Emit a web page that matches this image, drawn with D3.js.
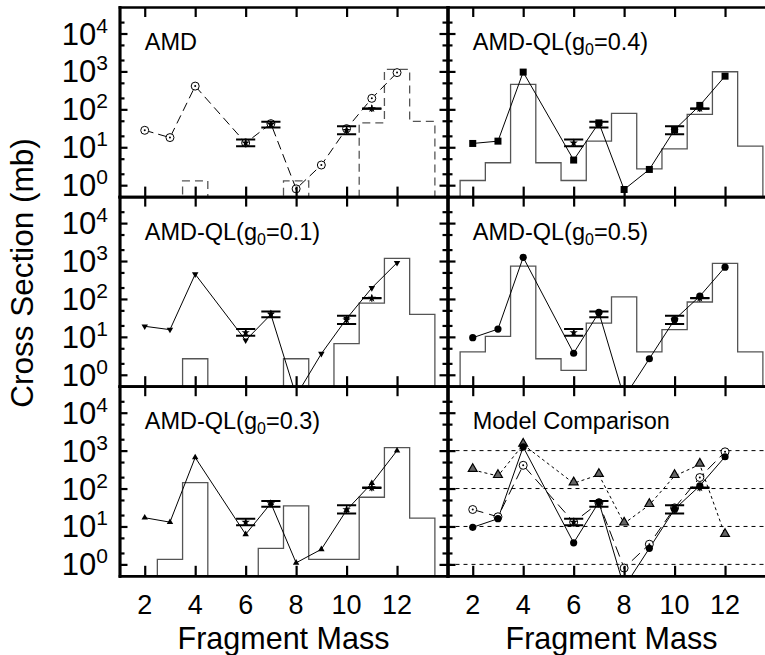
<!DOCTYPE html>
<html>
<head>
<meta charset="utf-8">
<script src="https://cdn.jsdelivr.net/npm/d3@7"></script>
<style>
body { margin: 0; background: #fff; }
svg { display: block; font-family: "Liberation Sans", Arial, sans-serif; }
</style>
</head>
<body>
<script>
// model points by fragment mass (mass 5 is unbound, so it is not plotted)
var masses = [2, 3, 4, 6, 7, 8, 9, 10, 11, 12];
var amdVals = [28, 18, 410, 13, 42, 0.8, 3.4, 31, 195, 930];
var ql01Vals = [19, 15.5, 450, 8.1, 39, 0.28, 3.6, 30, 195, 900];
var ql03Vals = [17, 13, 660, 6.2, 41, 1.1, 2.5, 27, 138, 1000];
var ql04Vals = [12.6, 14.5, 960, 4.6, 44, 0.77, 2.6, 29, 127, 750];
var ql05Vals = [9.5, 16, 1250, 3.7, 44, 0.25, 2.65, 28.5, 118, 690];
var cmpVals = [310, 215, 1440, 138, 230, 12, 37, 215, 430, 6.0];

// histograms, one bin per mass 2..13 (0 = empty bin)
var binMasses = [2, 3, 4, 5, 6, 7, 8, 9, 10, 11, 12, 13];
var amdHist = [0, 0, 1.3, 0, 0, 0, 1.3, 0, 0, 44, 1130, 48];
var ql01Hist = [0, 0, 2.65, 0, 0, 0, 2.65, 0, 6.6, 78, 1170, 39];
var ql03Hist = [0, 1.36, 144, 0, 0, 2.65, 35, 1.36, 1.36, 59, 1200, 16.5];
var ql04Hist = [1.33, 3.9, 455, 3.9, 1.33, 14.5, 78, 2.7, 9.1, 74, 980, 10.7];
var ql05Hist = [4.0, 10.3, 730, 2.65, 1.3, 23, 113, 4.0, 15.5, 83, 870, 4.0];

// experimental data
var expMass = [6, 7, 10, 11];
var expVal = [13, 40, 28, 105];
var expLo = [10.7, 33, 22, 104];
var expHi = [16, 47, 36, 106];

var xTicks = [2, 4, 6, 8, 10, 12];
var yMajor = [1, 10, 100, 1000, 10000];
var yMinor = [2, 5, 20, 50, 200, 500, 2000, 5000, 20000];
var yExp = ["0", "1", "2", "3", "4"];
var gridVals = [1, 10, 100, 1000];

var W = 765, H = 655;
var padL = 119.5, pw = 328, padT = 7, ph = 189.6;

var svg = d3.select("body").append("svg")
  .attr("width", W)
  .attr("height", H);

var xs = [0, 1].map(c => d3.scaleLinear().domain([1, 14]).range([padL + c * pw, padL + (c + 1) * pw]));
var ys = [0, 1, 2].map(r => d3.scaleLog().domain([0.5, 5e4]).range([padT + (r + 1) * ph, padT + r * ph]));

var panels = [
  {row: 0, col: 0, label: ["AMD"], hist: amdHist, histDash: "8,5",
   series: [{vals: amdVals, mark: "odot", dash: "9,5"}]},
  {row: 0, col: 1, label: ["AMD-QL(g", "0", "=0.4)"], hist: ql04Hist,
   series: [{vals: ql04Vals, mark: "square"}]},
  {row: 1, col: 0, label: ["AMD-QL(g", "0", "=0.1)"], hist: ql01Hist,
   series: [{vals: ql01Vals, mark: "tridown"}]},
  {row: 1, col: 1, label: ["AMD-QL(g", "0", "=0.5)"], hist: ql05Hist,
   series: [{vals: ql05Vals, mark: "dot"}]},
  {row: 2, col: 0, label: ["AMD-QL(g", "0", "=0.3)"], hist: ql03Hist,
   series: [{vals: ql03Vals, mark: "triup"}]},
  {row: 2, col: 1, label: ["Model Comparison"], grid: true,
   series: [{vals: cmpVals, mark: "trigray", dash: "3,3"},
            {vals: amdVals, mark: "odot", dash: "11,6"},
            {vals: ql05Vals, mark: "dot"}]}
];

function drawMark(g, kind, px, py) {
  if (kind == "odot") {
    g.append("circle").attr("cx", px).attr("cy", py).attr("r", 4)
      .attr("fill", "#fff").attr("stroke", "#000").attr("stroke-width", 1);
    g.append("circle").attr("cx", px).attr("cy", py).attr("r", 1).attr("fill", "#000");
  } else if (kind == "square") {
    g.append("rect").attr("x", px - 3.5).attr("y", py - 3.5).attr("width", 7).attr("height", 7).attr("fill", "#000");
  } else if (kind == "dot") {
    g.append("circle").attr("cx", px).attr("cy", py).attr("r", 3.6).attr("fill", "#000");
  } else if (kind == "tridown") {
    g.append("path").attr("d", d3.symbol(d3.symbolTriangle, 18)())
      .attr("transform", "translate(" + px + "," + py + ") rotate(180)").attr("fill", "#000");
  } else if (kind == "triup") {
    g.append("path").attr("d", d3.symbol(d3.symbolTriangle, 18)())
      .attr("transform", "translate(" + px + "," + py + ")").attr("fill", "#000");
  } else if (kind == "trigray") {
    g.append("path").attr("d", d3.symbol(d3.symbolTriangle, 34)())
      .attr("transform", "translate(" + px + "," + (py - 1) + ")")
      .attr("fill", "#666").attr("stroke", "#000").attr("stroke-width", 1.2);
  }
}

panels.forEach(function(p, pi) {
  var x = xs[p.col], y = ys[p.row];
  var x0 = x.range()[0], x1 = x.range()[1];
  var yb = y.range()[0], yt = y.range()[1];

  svg.append("clipPath").attr("id", "clip" + pi)
    .append("rect").attr("x", x0).attr("y", yt).attr("width", x1 - x0).attr("height", yb - yt);

  var g = svg.append("g").attr("clip-path", "url(#clip" + pi + ")");

  // histogram as steps
  if (p.hist) {
    var pts = [[binMasses[0] - 0.5, 0.01]];
    p.hist.forEach(function(v, i) {
      var vv = v > 0 ? v : 0.01;
      pts.push([binMasses[i] - 0.5, vv]);
      pts.push([binMasses[i] + 0.5, vv]);
    });
    pts.push([binMasses[binMasses.length - 1] + 0.5, 0.01]);
    g.append("path")
      .attr("d", d3.line().x(d => x(d[0])).y(d => y(d[1]))(pts))
      .attr("fill", "none")
      .attr("stroke", "#555")
      .attr("stroke-width", 1.3)
      .attr("stroke-dasharray", p.histDash || null);
  }

  if (p.grid) {
    g.selectAll(".grid").data(gridVals).enter().append("line")
      .attr("x1", x0).attr("x2", x1)
      .attr("y1", d => y(d)).attr("y2", d => y(d))
      .attr("stroke", "#000").attr("stroke-width", 1)
      .attr("stroke-dasharray", "4,4");
  }

  p.series.forEach(function(s) {
    g.append("path")
      .attr("d", d3.line().x((d, i) => x(masses[i])).y(d => y(d))(s.vals))
      .attr("fill", "none")
      .attr("stroke", "#000")
      .attr("stroke-width", 1)
      .attr("stroke-dasharray", s.dash || null);
  });
  p.series.forEach(function(s) {
    s.vals.forEach(function(v, i) { drawMark(g, s.mark, x(masses[i]), y(v)); });
  });

  // experimental points
  var hw = x(0.38) - x(0);
  expMass.forEach(function(m, i) {
    var px = x(m);
    g.append("line").attr("x1", px).attr("x2", px).attr("y1", y(expLo[i])).attr("y2", y(expHi[i]))
      .attr("stroke", "#000").attr("stroke-width", 1.2);
    [expLo[i], expHi[i]].forEach(function(v) {
      g.append("line").attr("x1", px - hw).attr("x2", px + hw).attr("y1", y(v)).attr("y2", y(v))
        .attr("stroke", "#000").attr("stroke-width", 2);
    });
    g.append("path").attr("d", d3.symbol(d3.symbolStar, 22)())
      .attr("transform", "translate(" + px + "," + y(expVal[i]) + ")").attr("fill", "#000");
    g.append("line").attr("x1", px).attr("x2", px).attr("y1", y(expVal[i]) - 3.5).attr("y2", y(expVal[i]) + 3.5)
      .attr("stroke", "#000").attr("stroke-width", 1.2);
  });

  // axes and frame
  var axes = [
    d3.axisTop(x).tickValues(xTicks).tickSize(-10), "translate(0," + yt + ")",
    d3.axisBottom(x).tickValues(xTicks).tickSize(-10), "translate(0," + yb + ")",
    d3.axisLeft(y).tickValues(yMajor).tickSize(-8), "translate(" + x0 + ",0)",
    d3.axisLeft(y).tickValues(yMinor).tickSize(-5), "translate(" + x0 + ",0)",
    d3.axisRight(y).tickValues(yMajor).tickSize(-8), "translate(" + x1 + ",0)",
    d3.axisRight(y).tickValues(yMinor).tickSize(-5), "translate(" + x1 + ",0)"
  ];
  for (var k = 0; k < axes.length; k += 2) {
    var ax = svg.append("g").attr("transform", axes[k + 1])
      .call(axes[k].tickSizeOuter(0).tickFormat(""));
    ax.select(".domain").attr("stroke-width", 2.7).attr("stroke-linecap", "square");
    ax.selectAll(".tick line").attr("stroke-width", 2.2);
  }

  // panel label
  var t = svg.append("text")
    .attr("x", x(2))
    .attr("y", yt + 43)
    .attr("font-size", 23.5)
    .attr("fill", "#000");
  t.append("tspan").text(p.label[0]);
  if (p.label.length > 1) {
    t.append("tspan").attr("font-size", 16).attr("dy", 5).text(p.label[1]);
    t.append("tspan").attr("dy", -5).text(p.label[2]);
  }

  // y tick labels on the left column
  if (p.col == 0) {
    yMajor.forEach(function(v, i) {
      var lab = svg.append("text")
        .attr("x", 108)
        .attr("y", y(v) + 11)
        .attr("text-anchor", "end")
        .attr("font-size", 31)
        .attr("fill", "#000");
      lab.append("tspan").text("10");
      lab.append("tspan").attr("font-size", 21).attr("dy", -12).text(yExp[i]);
    });
  }

  // x tick labels and title on the bottom row
  if (p.row == 2) {
    svg.append("g").selectAll("text").data(xTicks).enter().append("text")
      .attr("x", d => x(d))
      .attr("y", 614)
      .attr("text-anchor", "middle")
      .attr("font-size", 27)
      .text(d => d);
    svg.append("text")
      .attr("x", (x0 + x1) / 2)
      .attr("y", 649)
      .attr("text-anchor", "middle")
      .attr("font-size", 30.5)
      .text("Fragment Mass");
  }
});

svg.append("text")
  .attr("transform", "translate(33,273) rotate(-90)")
  .attr("text-anchor", "middle")
  .attr("font-size", 31.5)
  .text("Cross Section (mb)");
</script>
</body>
</html>
